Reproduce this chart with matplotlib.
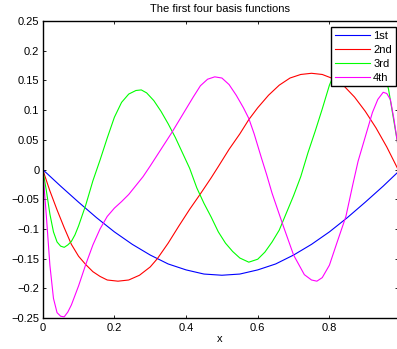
import matplotlib
matplotlib.use("Agg")
import matplotlib.pyplot as plt

plt.rcParams['font.family'] = ['Liberation Sans', 'DejaVu Sans']

# values
x_1st = [0.00, 0.05, 0.10, 0.15, 0.20, 0.25, 0.30, 0.35, 0.40, 0.45, 0.50,
         0.55, 0.60, 0.65, 0.70, 0.75, 0.80, 0.85, 0.90, 0.95, 0.99]
y_1st = [0.000, -0.028, -0.055, -0.081, -0.105, -0.126, -0.144, -0.159, -0.169, -0.176, -0.178,
         -0.176, -0.169, -0.159, -0.144, -0.126, -0.105, -0.081, -0.055, -0.028, -0.005]

x_2nd = [0.00, 0.02, 0.04, 0.06, 0.08, 0.10, 0.12, 0.14, 0.16, 0.18, 0.21, 0.24, 0.27,
         0.30, 0.32, 0.35, 0.38, 0.41, 0.44, 0.47, 0.49, 0.52, 0.55, 0.575, 0.60, 0.63,
         0.66, 0.69, 0.72, 0.75, 0.78, 0.81, 0.84, 0.87, 0.90, 0.93, 0.96, 0.99]
y_2nd = [0.000, -0.036, -0.068, -0.098, -0.126, -0.146, -0.160, -0.172, -0.180, -0.186, -0.188,
         -0.186, -0.178, -0.164, -0.150, -0.124, -0.095, -0.067, -0.041, -0.014, 0.005, 0.034,
         0.060, 0.084, 0.104, 0.125, 0.142, 0.154, 0.160, 0.162, 0.160, 0.153, 0.141, 0.122,
         0.098, 0.070, 0.038, 0.002]

x_3rd = [0.00, 0.01, 0.02, 0.03, 0.04, 0.05, 0.06, 0.07, 0.08, 0.09, 0.10, 0.12, 0.14,
         0.16, 0.18, 0.20, 0.22, 0.24, 0.26, 0.275, 0.29, 0.31, 0.33, 0.35, 0.37, 0.39,
         0.41, 0.43, 0.45, 0.47, 0.49, 0.51, 0.53, 0.55, 0.575, 0.60, 0.62, 0.64, 0.66,
         0.68, 0.70, 0.72, 0.74, 0.76, 0.78, 0.80, 0.83, 0.86, 0.89, 0.92, 0.95, 0.965, 0.99]
y_3rd = [0.000, -0.035, -0.075, -0.105, -0.122, -0.129, -0.131, -0.127, -0.121, -0.110,
         -0.095, -0.060, -0.019, 0.016, 0.053, 0.088, 0.113, 0.127, 0.133, 0.134, 0.129,
         0.116, 0.098, 0.077, 0.054, 0.028, 0.002, -0.031, -0.057, -0.080, -0.105, -0.124,
         -0.138, -0.149, -0.156, -0.151, -0.139, -0.122, -0.102, -0.073, -0.044, -0.012,
         0.028, 0.064, 0.102, 0.142, 0.185, 0.210, 0.218, 0.208, 0.170, 0.135, 0.045]

x_4th = [0.00, 0.01, 0.02, 0.03, 0.04, 0.05, 0.06, 0.07, 0.08, 0.10, 0.12, 0.14, 0.16,
         0.18, 0.20, 0.22, 0.24, 0.26, 0.28, 0.30, 0.33, 0.36, 0.39, 0.42, 0.44, 0.46,
         0.48, 0.50, 0.52, 0.54, 0.56, 0.575, 0.59, 0.61, 0.625, 0.64, 0.67, 0.70, 0.73,
         0.75, 0.765, 0.78, 0.80, 0.82, 0.846, 0.865, 0.88, 0.90, 0.92, 0.935, 0.95, 0.96,
         0.97, 0.98, 0.99]
y_4th = [0.000, -0.077, -0.161, -0.217, -0.241, -0.247, -0.248, -0.240, -0.228, -0.196,
         -0.160, -0.127, -0.100, -0.079, -0.065, -0.054, -0.042, -0.027, -0.012, 0.006,
         0.034, 0.062, 0.092, 0.122, 0.141, 0.152, 0.156, 0.154, 0.143, 0.125, 0.104, 0.086,
         0.060, 0.020, -0.009, -0.040, -0.093, -0.144, -0.177, -0.186, -0.188, -0.182,
         -0.161, -0.125, -0.079, -0.026, 0.014, 0.055, 0.096, 0.118, 0.130, 0.128, 0.118,
         0.085, 0.045]

series_labels = ['1st', '2nd', '3rd', '4th']
series_colors = ['#0000ff', '#ff0000', '#00ff00', '#ff00ff']

x_ticks = [0, 0.2, 0.4, 0.6, 0.8]
x_tick_labels = ['0', '0.2', '0.4', '0.6', '0.8']
y_ticks = [-0.25, -0.2, -0.15, -0.1, -0.05, 0, 0.05, 0.1, 0.15, 0.2, 0.25]
y_tick_labels = ['\u22120.25', '\u22120.2', '\u22120.15', '\u22120.1', '\u22120.05', '0',
                 '0.05', '0.1', '0.15', '0.2', '0.25']

fig = plt.figure(figsize=(3.97, 3.49), dpi=100)
ax = fig.add_axes([0.1076, 0.0888, 0.8937, 0.851])

xs = [x_1st, x_2nd, x_3rd, x_4th]
ys = [y_1st, y_2nd, y_3rd, y_4th]
for x, y, lab, col in zip(xs, ys, series_labels, series_colors):
    ax.plot(x, y, color=col, lw=0.8, label=lab, solid_joinstyle='round')

ax.set_xlim(0, 0.99)
ax.set_ylim(-0.25, 0.25)
ax.set_xticks(x_ticks)
ax.set_xticklabels(x_tick_labels)
ax.set_yticks(y_ticks)
ax.set_yticklabels(y_tick_labels)
ax.tick_params(direction='in', top=True, right=True, length=2.5, width=0.6,
               labelsize=8, pad=2.4)
ax.tick_params(axis='x', pad=3.6)
for s in ax.spines.values():
    s.set_linewidth(1.0)

ax.set_title('The first four basis functions', fontsize=8, pad=6.5)
ax.set_xlabel('x', fontsize=8, labelpad=1)

leg = ax.legend(loc='upper right', bbox_to_anchor=(0.9949, 0.981), borderaxespad=0,
                fontsize=8, fancybox=False, framealpha=1, edgecolor='black',
                handlelength=3.1, handletextpad=0.3, labelspacing=0.36, borderpad=0.35)
leg.get_frame().set_linewidth(1.0)

fig.savefig('out.png', dpi=100)
